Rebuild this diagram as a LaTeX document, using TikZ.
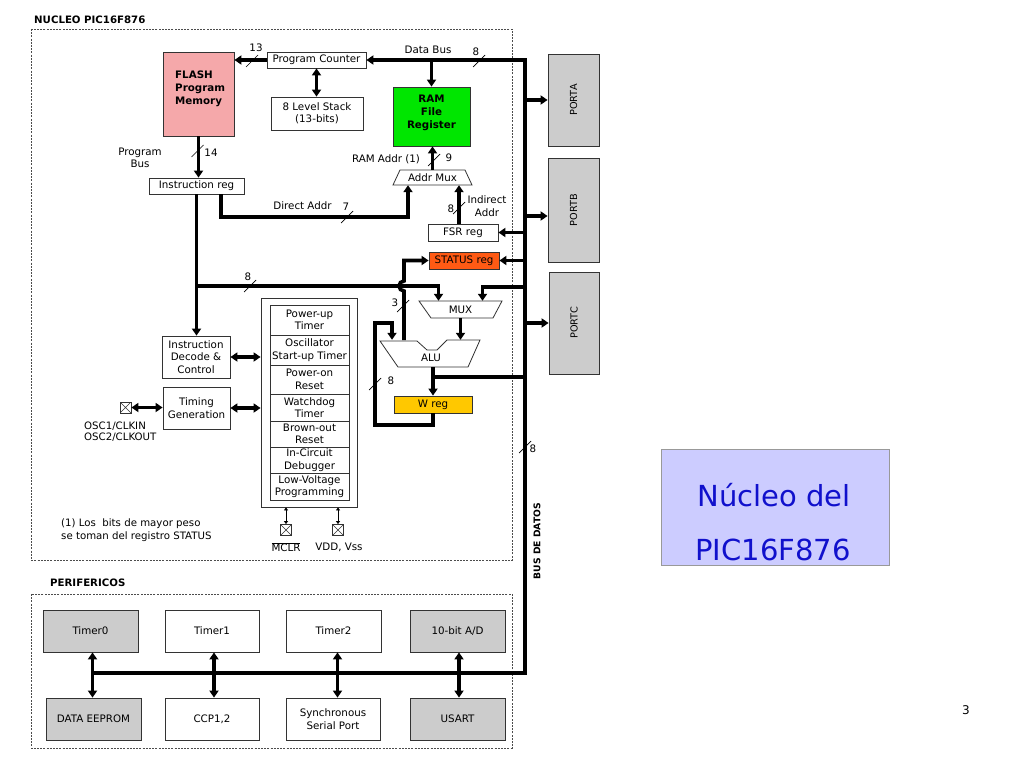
\documentclass[tikz,border=0pt]{standalone}
\usepackage{fontspec}
\usepackage{graphicx}
\setmainfont{DejaVu Sans}
\usetikzlibrary{arrows.meta}
\definecolor{flashc}{HTML}{F5A8AA}
\definecolor{ramc}{HTML}{00E600}
\definecolor{statc}{HTML}{FF5A14}
\definecolor{wregc}{HTML}{FFC800}
\definecolor{portgc}{HTML}{CCCCCC}
\definecolor{nucc}{HTML}{CCCCFF}
\definecolor{bluet}{HTML}{1010CC}
\definecolor{edgec}{HTML}{333333}
\newcommand\busmark[2]{\draw[slash] (#1,#2) ++(-6,6) -- ++(12,-12);}
\begin{document}
\begin{tikzpicture}[x=1pt,y=-1pt,
  every node/.style={font=\fontsize{10.3}{12.5}\selectfont, inner sep=0pt},
  blk/.style={draw=edgec, line width=0.8pt, align=center, fill=white},
  bold/.style={font=\fontsize{10.3}{12.8}\selectfont\bfseries},
  bus/.style={line width=3.6pt},
  tip/.style={-{Triangle[length=7pt,width=9pt]}},
  dtip/.style={{Triangle[length=7pt,width=9pt]}-{Triangle[length=7pt,width=9pt]}},
  pinar/.style={line width=0.8pt,{Triangle[length=3pt,width=4pt]}-{Triangle[length=3pt,width=4pt]}},
  slash/.style={line width=0.7pt},
  dashbox/.style={draw=gray!60!black, line width=0.8pt, dash pattern=on 2pt off 1.2pt},
  pin/.style={draw=edgec, line width=0.8pt, minimum size=11pt, fill=white,
    path picture={\draw[line width=0.6pt] (path picture bounding box.south west) -- (path picture bounding box.north east)
      (path picture bounding box.north west) -- (path picture bounding box.south east);}},
  title/.style={font=\fontsize{10.2}{12}\selectfont\bfseries, anchor=west},
]
\useasboundingbox (0,0) rectangle (1024,768);
\fill[white] (0,0) rectangle (1024,768);

% frames
\draw[dashbox] (31,29) rectangle (512,560);
\draw[dashbox] (31,594) rectangle (512,748);
\node[title] (tnuc) at (34,20) {NUCLEO PIC16F876};
\node[title] (tper) at (50,583) {PERIFERICOS};

% core blocks
\node[blk, fill=flashc, minimum width=71, minimum height=84] (flash) at (198.5,94) {};
\node[bold, align=left, anchor=north west] (flasht) at (175,71) {FLASH\\Program\\Memory};
\node[blk, minimum width=99, minimum height=16] (pc) at (316.5,60) {Program Counter};
\node[blk, minimum width=92, minimum height=33] (stack) at (317,113.5) {8 Level Stack\\(13-bits)};
\node[blk, fill=ramc, minimum width=77, minimum height=59] (ram) at (431.5,116.5) {};
\node[bold, align=center, anchor=north] (ramt) at (431.5,95) {RAM\\File\\Register};
\node[blk, minimum width=95, minimum height=16] (ir) at (196.5,186) {Instruction reg};
\draw[blk] (400,170) -- (465,170) -- (472,185) -- (393,185) -- cycle;
\node[minimum width=79, minimum height=15] (amux) at (432.5,177.5) {Addr Mux};
\node[blk, minimum width=70, minimum height=17] (fsr) at (463,232.5) {FSR reg};
\node[blk, fill=statc, minimum width=70, minimum height=17] (status) at (464,260.5) {STATUS reg};
\draw[blk] (419,301) -- (502,301) -- (493,318) -- (431,318) -- cycle;
\node[minimum width=83, minimum height=17] (mux) at (460.5,309.5) {MUX};
\draw[blk] (380,341) -- (417,341) -- (427,350) -- (437,350) -- (447,340) -- (480,340) -- (468,367) -- (398,367) -- cycle;
\node[minimum width=100, minimum height=27] (alu) at (430,353.5) {};
\node (alut) at (431,358) {ALU};
\node[blk, fill=wregc, minimum width=78, minimum height=17] (wreg) at (433,404.5) {W reg};

% ports
\node[blk, fill=portgc, minimum width=51, minimum height=92, font=\fontsize{9.7}{11}\selectfont] (porta) at (573.5,100) {\rotatebox{90}{PORTA}};
\node[blk, fill=portgc, minimum width=51, minimum height=104, font=\fontsize{9.7}{11}\selectfont] (portb) at (573.5,210) {\rotatebox{90}{PORTB}};
\node[blk, fill=portgc, minimum width=50, minimum height=102, font=\fontsize{9.7}{11}\selectfont] (portc) at (574,323) {\rotatebox{90}{PORTC}};

% control blocks
\node[blk, minimum width=68, minimum height=42] (decode) at (196,357) {Instruction\\Decode \&\\Control};
\node[blk, minimum width=67, minimum height=42] (timing) at (196.5,408) {Timing\\Generation};
\node[blk, minimum width=96, minimum height=209] (big) at (309,402.5) {};
\node[blk, minimum width=79, minimum height=30] (r1) at (309.5,320) {Power-up\\Timer};
\node[blk, minimum width=79, minimum height=30] (r2) at (309.5,350) {Oscillator\\Start-up Timer};
\node[blk, minimum width=79, minimum height=29] (r3) at (309.5,379.5) {Power-on\\Reset};
\node[blk, minimum width=79, minimum height=27] (r4) at (309.5,407.5) {Watchdog\\Timer};
\node[blk, minimum width=79, minimum height=26] (r5) at (309.5,434) {Brown-out\\Reset};
\node[blk, minimum width=79, minimum height=26] (r6) at (309.5,460) {In-Circuit\\Debugger};
\node[blk, minimum width=79, minimum height=27] (r7) at (309.5,486.5) {Low-Voltage\\Programming};

% pins
\node[pin] (osc) at (125.5,407.5) {};
\node[pin] (mclr) at (286,530) {};
\node[pin] (vdd) at (338,530) {};
\node[anchor=north west, align=left, font=\fontsize{10.2}{11}\selectfont] (osclbl) at (84,422) {OSC1/CLKIN\\OSC2/CLKOUT};
\node (mclrlbl) at (286,547) {$\overline{\mbox{MCLR}}$};
\node (vddlbl) at (339,547) {VDD, Vss};
\node[anchor=north west, align=left, font=\fontsize{10.2}{13}\selectfont] (note) at (61,519) {(1) Los\ \ bits de mayor peso\\se toman del registro STATUS};

% peripherals
\node[blk, fill=portgc, minimum width=95, minimum height=42] (t0) at (90.5,631) {Timer0};
\node[blk, minimum width=94, minimum height=42] (t1) at (212,631) {Timer1};
\node[blk, minimum width=95, minimum height=42] (t2) at (333.5,631) {Timer2};
\node[blk, fill=portgc, minimum width=95, minimum height=42] (ad) at (457.5,631) {10-bit A/D};
\node[blk, fill=portgc, minimum width=95, minimum height=42] (eeprom) at (93.5,719) {DATA EEPROM};
\node[blk, minimum width=94, minimum height=42] (ccp) at (212,719) {CCP1,2};
\node[blk, minimum width=94, minimum height=42] (ssp) at (333,719) {Synchronous\\Serial Port};
\node[blk, fill=portgc, minimum width=95, minimum height=42] (usart) at (457.5,719) {USART};

% title box
\node[draw=gray!80, line width=0.8pt, fill=nucc, minimum width=228, minimum height=116] (nucleo) at (775,507) {};
\node[anchor=base, text=bluet, font=\fontsize{29}{34}\selectfont] (nuc1) at (774,506) {Núcleo del};
\node[anchor=base, text=bluet, font=\fontsize{29}{34}\selectfont] (nuc2) at (773,560) {PIC16F876};
\node[font=\fontsize{12}{14}\selectfont] (pageno) at (966,710) {3};

% connectors: data bus
\coordinate (bx) at (525,0);
\coordinate (busL) at (92.5,673);
\coordinate (busT) at (525,60);
\draw[bus,tip] (busL) -| (busT) -- (pc.east);
\draw[bus,tip] (pc.west) -- (pc.west -| flash.east);
\draw[bus,dtip] (pc.south) -- (pc.south |- stack.north);
\draw[bus,tip] (ram.north |- busT) -- (ram.north);
\draw[bus,tip] (porta.west -| bx) -- (porta.west);
\draw[bus,tip] ([yshift=-6]portb.west -| bx) -- ([yshift=-6]portb.west);
\draw[bus,tip] (portc.west -| bx) -- (portc.west);
\draw[bus,tip] (fsr.east -| bx) -- (fsr.east);
\draw[bus,tip] (status.east -| bx) -- (status.east);

% program path
\draw[bus,tip] (flash.south) -- (flash.south |- ir.north);
\coordinate (da) at (408,217);
\draw[bus,tip] ([xshift=24.5]ir.south) |- (da) -- (da |- amux.south);
\draw[bus,tip] (amux.north) -- (amux.north |- ram.south);
\draw[bus,tip] ([xshift=-4]fsr.north) -- ([xshift=-4]fsr.north |- amux.south);
\draw[bus,tip] (ir.south) -- (ir.south |- decode.north);
\coordinate (j8) at (196.5,286);
\draw[bus,tip] (j8) -| ([xshift=-22]mux.north);
\coordinate (mr) at (525,287);
\draw[bus,tip] (mr) -| ([xshift=22]mux.north);
\draw[bus,tip] (mux.south) -- (mux.south |- alu.north);
\coordinate (sa) at (404,340);
\draw[bus,tip] (sa) -- ++(0,-49) arc[start angle=90,end angle=270,radius=5] |- (status.west);
\coordinate (l1) at (375,425);
\coordinate (l2) at (375,323);
\coordinate (l3) at (392,323);
\draw[bus,tip] (wreg.south) |- (l1) -- (l2) -- (l3) -- (l3 |- alu.north);
\draw[bus,tip] (wreg.north |- alu.south) -- (wreg.north);
\coordinate (ao) at (433,377);
\draw[bus] (ao) -- (ao -| bx);

% control
\draw[bus,dtip] (decode.east) -- (decode.east -| big.west);
\draw[bus,dtip] (timing.east) -- (timing.east -| big.west);
\draw[bus,dtip] (osc.east) -- (osc.east -| timing.west);
\draw[pinar] (big.south -| mclr.north) -- (mclr.north);
\draw[pinar] (big.south -| vdd.north) -- (vdd.north);

% peripherals
\draw[bus,dtip] ([xshift=2]t0.south) -- ([xshift=2]t0.south |- eeprom.north);
\draw[bus,dtip] ([xshift=2]t1.south) -- ([xshift=2]t1.south |- ccp.north);
\draw[bus,dtip] ([xshift=4]t2.south) -- ([xshift=4]t2.south |- ssp.north);
\draw[bus,dtip] ([xshift=1.5]ad.south) -- ([xshift=1.5]ad.south |- usart.north);

% bus width marks
\busmark{252}{61}
\busmark{479}{61}
\busmark{197.5}{151}
\busmark{434}{160}
\busmark{347}{217}
\busmark{459}{208}
\busmark{250}{286}
\busmark{403}{306}
\busmark{375}{384}
\busmark{525}{447}

% labels
\node (l13) at (256,48) {13};
\node (ldb) at (428,50) {Data Bus};
\node (l8a) at (476,52) {8};
\node[align=center] (lpb) at (140,158) {Program\\Bus};
\node (l14) at (211,153) {14};
\node (lra) at (386,159) {RAM Addr (1)};
\node (l9) at (449,158) {9};
\node (lda) at (302.5,206) {Direct Addr};
\node (l7) at (346,207) {7};
\node[align=center] (lia) at (487,206) {Indirect\\Addr};
\node (l8b) at (451,209) {8};
\node (l8c) at (248,277) {8};
\node (l3) at (395,303) {3};
\node (l8d) at (391,381) {8};
\node (l8e) at (533,449) {8};
\node[font=\fontsize{9.2}{11}\selectfont\bfseries] (lbus) at (537,541) {\rotatebox{90}{BUS DE DATOS}};
\end{tikzpicture}
\end{document}
